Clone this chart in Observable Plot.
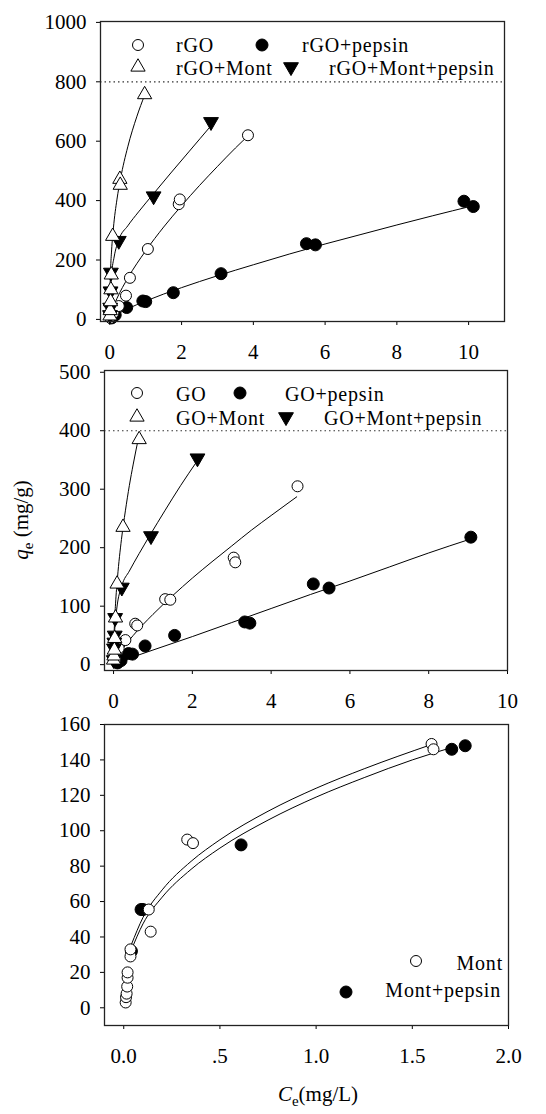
<!DOCTYPE html>
<html><head><meta charset="utf-8">
<script src="https://cdn.jsdelivr.net/npm/d3@7"></script>
<script src="https://cdn.jsdelivr.net/npm/@observablehq/plot@0.6"></script>
<style>
body{margin:0;background:#fff;}
#wrap{position:relative;width:546px;height:1114px;overflow:hidden;background:#fff;}
#wrap svg{position:absolute;left:0;overflow:visible;}
</style></head><body><div id="wrap"></div>
<script>
// ---------- Panel 1: rGO ----------
const rGO_C = [0.02, 0.05, 0.1, 0.25, 0.45, 0.56, 1.06, 1.92, 1.95, 3.85];
const rGO_q = [5, 12, 22, 45, 80, 140, 237, 388, 404, 620];
const rGOpep_C = [0.05, 0.15, 0.47, 0.92, 1.0, 1.77, 3.1, 5.48, 5.73, 9.87, 10.13];
const rGOpep_q = [5, 15, 40, 62, 60, 90, 154, 255, 251, 398, 380];
const rGOM_C = [0.005, 0.01, 0.02, 0.03, 0.04, 0.08, 0.28, 0.29, 0.97];
const rGOM_q = [12, 30, 60, 100, 150, 280, 472, 452, 757];
const rGOMP_C = [0.005, 0.01, 0.02, 0.03, 0.25, 1.22, 2.82];
const rGOMP_q = [15, 40, 95, 158, 265, 415, 665];
// fitted curves
const fit_rGO_C = [0.05, 0.1, 0.2, 0.5, 1, 1.5, 2, 2.5, 3, 3.5, 3.87];
const fit_rGO_q = [26, 43, 71, 139, 231, 311, 383, 451, 515, 577, 620];
const fit_rGOpep_C = [0.15, 0.3, 0.5, 1, 2, 3, 4, 5, 6, 7, 8, 9, 10.1];
const fit_rGOpep_q = [14, 24, 36, 62, 107, 147, 184, 220, 254, 286, 318, 349, 382];
const fit_rGOM_C = [0.002, 0.005, 0.02, 0.05, 0.1, 0.2, 0.3, 0.5, 0.75, 0.97];
const fit_rGOM_q = [20, 94, 163, 234, 308, 405, 475, 581, 682, 755];
const fit_rGOMP_C = [0.002, 0.01, 0.05, 0.12, 0.25, 0.5, 0.8, 1.21, 1.7, 2.2, 2.84];
const fit_rGOMP_q = [15, 60, 150, 210, 268, 315, 362, 422, 493, 564, 655];
const yTicks1 = [0, 200, 400, 600, 800, 1000];
const xTicks1 = [0, 2, 4, 6, 8, 10];
const ref1 = [800];

// ---------- Panel 2: GO ----------
const GO_C = [0.05, 0.13, 0.3, 0.55, 0.6, 1.31, 1.44, 3.05, 3.09, 4.67];
const GO_q = [10, 28, 42, 70, 67, 112, 111, 183, 175, 305];
const GOpep_C = [0.1, 0.19, 0.38, 0.48, 0.8, 1.55, 3.33, 3.46, 5.07, 5.47, 9.07];
const GOpep_q = [3, 7, 19, 18, 32, 50, 73, 71, 138, 131, 218];
const GOM_C = [0.0, 0.01, 0.02, 0.03, 0.05, 0.09, 0.24, 0.65];
const GOM_q = [8, 15, 25, 45, 80, 138, 235, 385];
const GOMP_C = [0.005, 0.01, 0.02, 0.03, 0.04, 0.21, 0.95, 2.13];
const GOMP_q = [8, 28, 38, 50, 80, 132, 220, 353];
const fit_GO_C = [0.1, 0.25, 0.5, 1, 1.5, 2, 2.5, 3, 3.5, 4, 4.65];
const fit_GO_q = [14, 29, 50, 86, 118, 148, 176, 203, 230, 255, 287];
const fit_GOpep_C = [0.1, 1, 2, 3, 4, 5, 6, 7, 8, 9.07];
const fit_GOpep_q = [4, 25, 48, 72, 96, 120, 143, 167, 191, 215];
const fit_GOM_C = [0.0005, 0.005, 0.02, 0.05, 0.1, 0.2, 0.3, 0.4, 0.5, 0.64];
const fit_GOM_q = [10, 32, 65, 104, 149, 214, 263, 306, 343, 390];
const fit_GOMP_C = [0.001, 0.005, 0.03, 0.08, 0.21, 0.4, 0.65, 0.93, 1.3, 1.7, 2.12];
const fit_GOMP_q = [5, 20, 60, 95, 135, 160, 190, 222, 263, 306, 348];
const yTicks2 = [0, 100, 200, 300, 400, 500];
const xTicks2 = [0, 2, 4, 6, 8, 10];
const ref2 = [400];

// ---------- Panel 3: Mont ----------
const Mont_C = [0.01, 0.012, 0.015, 0.018, 0.02, 0.02, 0.035, 0.035, 0.13, 0.14, 0.33, 0.36, 1.6, 1.61];
const Mont_q = [3, 6, 8, 12, 17, 20, 29, 33, 55.5, 43, 95, 93, 149, 146];
const MontP_C = [0.04, 0.09, 0.1, 0.61, 1.705, 1.775];
const MontP_q = [32, 55.5, 55.5, 92, 146, 148];
const fit_Mont_C = [0.04, 0.1, 0.2, 0.35, 0.5, 0.75, 1.0, 1.25, 1.6];
const fit_Mont_q = [35.8, 51, 66.6, 82.7, 94.9, 111, 124, 135, 148.7];
const fit_MontP_C = [0.04, 0.1, 0.2, 0.35, 0.5, 0.75, 1.0, 1.25, 1.5, 1.705];
const fit_MontP_q = [32.8, 47.4, 62.5, 78.2, 90.2, 106, 119, 130, 140, 147];
const yTicks3 = [0, 20, 40, 60, 80, 100, 120, 140, 160];
const xTicks3 = [0, 0.5, 1.0, 1.5, 2.0];
const xLabels3 = ["0.0", ".5", "1.0", "1.5", "2.0"];

// ---------- helpers ----------
const FONT = "'Liberation Serif', 'Times New Roman', serif";
const rows = (C, Q) => C.map((c, i) => ({C: c, q: Q[i]}));
const triUp = {draw(ctx, size) {
  const s = Math.sqrt(size * 4 / Math.sqrt(3)), h = s * Math.sqrt(3) / 2;
  ctx.moveTo(0, -2 * h / 3); ctx.lineTo(s / 2, h / 3); ctx.lineTo(-s / 2, h / 3); ctx.closePath();
}};
const triDown = {draw(ctx, size) {
  const s = Math.sqrt(size * 4 / Math.sqrt(3)), h = s * Math.sqrt(3) / 2;
  ctx.moveTo(0, 2 * h / 3); ctx.lineTo(s / 2, -h / 3); ctx.lineTo(-s / 2, -h / 3); ctx.closePath();
}};
const STY = {
  openC: {symbol: "circle", r: 5.5, fill: "white", stroke: "black", strokeWidth: 1},
  fillC: {symbol: "circle", r: 6, fill: "black", stroke: "black", strokeWidth: 1},
  openT: {symbol: triUp, r: 5.3, fill: "white", stroke: "black", strokeWidth: 1},
  fillT: {symbol: triDown, r: 5.5, fill: "black", stroke: "black", strokeWidth: 1}
};

function makePanel(cfg) {
  const marks = [];
  if (cfg.ref) marks.push(Plot.ruleY(cfg.ref, {stroke: "#333", strokeWidth: 1.2, strokeDasharray: "1.5,3"}));
  for (const f of cfg.fits) marks.push(Plot.line(rows(f[0], f[1]), {x: "C", y: "q", curve: "monotone-x", stroke: "black", strokeWidth: 1}));
  for (const s of cfg.series) marks.push(Plot.dot(rows(s[0], s[1]), {x: "C", y: "q", ...STY[s[2]]}));
  marks.push(Plot.axisY({ticks: cfg.yTicks, tickSize: 4, tickPadding: 10, label: null, tickFormat: d => String(d)}));
  marks.push(Plot.axisX({ticks: cfg.xTicks, tickSize: 4, tickPadding: 19, label: null, tickFormat: cfg.xFormat || (d => String(d))}));
  marks.push(Plot.frame({stroke: "#222", strokeWidth: 1.3}));
  const svg = Plot.plot({
    width: 546, height: cfg.height,
    marginLeft: cfg.ml, marginRight: cfg.mr, marginTop: cfg.mt, marginBottom: cfg.mb,
    x: {domain: cfg.xd}, y: {domain: cfg.yd},
    style: {fontFamily: FONT, fontSize: "21px", color: "black", background: "transparent", overflow: "visible"},
    marks
  });
  svg.style.top = cfg.top + "px";
  svg.setAttribute("font-family", FONT);
  d3.select(svg).selectAll("text").attr("font-family", FONT).attr("font-size", 21).attr("fill", "black");
  const g = d3.select(svg).append("g").attr("font-family", FONT).attr("font-size", 20).attr("fill", "black");
  for (const it of cfg.legend) {
    const st = STY[it.s];
    const type = st.symbol === "circle" ? d3.symbolCircle : st.symbol;
    g.append("path").attr("d", d3.symbol(type, Math.PI * st.r * st.r)())
      .attr("transform", `translate(${it.x},${it.y})`)
      .attr("fill", st.fill).attr("stroke", "black").attr("stroke-width", 1);
    g.append("text").attr("x", it.tx).attr("y", it.ty).attr("letter-spacing", "0.8px")
      .attr("text-anchor", it.anchor || "start").text(it.label);
  }
  document.getElementById("wrap").appendChild(svg);
  return {svg, g};
}

makePanel({
  top: 0, height: 355, ml: 100, mr: 42, mt: 21, mb: 34,
  xd: [-0.26, 11.0], yd: [-7, 1003], xTicks: xTicks1, yTicks: yTicks1, ref: ref1,
  fits: [[fit_rGO_C, fit_rGO_q], [fit_rGOpep_C, fit_rGOpep_q], [fit_rGOM_C, fit_rGOM_q], [fit_rGOMP_C, fit_rGOMP_q]],
  series: [[rGOpep_C, rGOpep_q, "fillC"], [rGO_C, rGO_q, "openC"], [rGOMP_C, rGOMP_q, "fillT"], [rGOM_C, rGOM_q, "openT"]],
  legend: [
    {s: "openC", x: 138, y: 45, tx: 176, ty: 52, label: "rGO"},
    {s: "fillC", x: 262, y: 45, tx: 302, ty: 52, label: "rGO+pepsin"},
    {s: "openT", x: 138, y: 67, tx: 176, ty: 75, label: "rGO+Mont"},
    {s: "fillT", x: 291, y: 67, tx: 329, ty: 75, label: "rGO+Mont+pepsin"}
  ]
});

const p2 = makePanel({
  top: 355, height: 350, ml: 104, mr: 39, mt: 15, mb: 35,
  xd: [-0.23, 10], yd: [-10, 503], xTicks: xTicks2, yTicks: yTicks2, ref: ref2,
  fits: [[fit_GO_C, fit_GO_q], [fit_GOpep_C, fit_GOpep_q], [fit_GOM_C, fit_GOM_q], [fit_GOMP_C, fit_GOMP_q]],
  series: [[GOpep_C, GOpep_q, "fillC"], [GO_C, GO_q, "openC"], [GOMP_C, GOMP_q, "fillT"], [GOM_C, GOM_q, "openT"]],
  legend: [
    {s: "openC", x: 137, y: 38, tx: 176, ty: 46, label: "GO"},
    {s: "fillC", x: 240, y: 38, tx: 285, ty: 46, label: "GO+pepsin"},
    {s: "openT", x: 137, y: 62, tx: 176, ty: 70, label: "GO+Mont"},
    {s: "fillT", x: 286, y: 62, tx: 324, ty: 70, label: "GO+Mont+pepsin"}
  ]
});
// y-axis title
const yl = p2.g.append("text").attr("font-size", 21).attr("transform", "translate(28,165) rotate(-90)").attr("text-anchor", "middle");
yl.append("tspan").attr("font-style", "italic").text("q");
yl.append("tspan").attr("font-size", 15).attr("dy", 5).text("e");
yl.append("tspan").attr("dy", -5).text(" (mg/g)");

const p3 = makePanel({
  top: 705, height: 409, ml: 104, mr: 38, mt: 19, mb: 89,
  xd: [-0.1, 2.0], yd: [-10, 160], xTicks: xTicks3, yTicks: yTicks3,
  xFormat: d => xLabels3[xTicks3.indexOf(d)],
  fits: [[fit_Mont_C, fit_Mont_q], [fit_MontP_C, fit_MontP_q]],
  series: [[MontP_C, MontP_q, "fillC"], [Mont_C, Mont_q, "openC"]],
  legend: [
    {s: "openC", x: 416, y: 256, tx: 503, ty: 265, label: "Mont", anchor: "end"},
    {s: "fillC", x: 346, y: 287, tx: 501, ty: 292, label: "Mont+pepsin", anchor: "end"}
  ]
});
const xl = p3.g.append("text").attr("font-size", 21).attr("x", 318).attr("y", 396).attr("text-anchor", "middle");
xl.append("tspan").attr("font-style", "italic").text("C");
xl.append("tspan").attr("font-size", 15).attr("dy", 5).text("e");
xl.append("tspan").attr("dy", -5).text("(mg/L)");
</script></body></html>
